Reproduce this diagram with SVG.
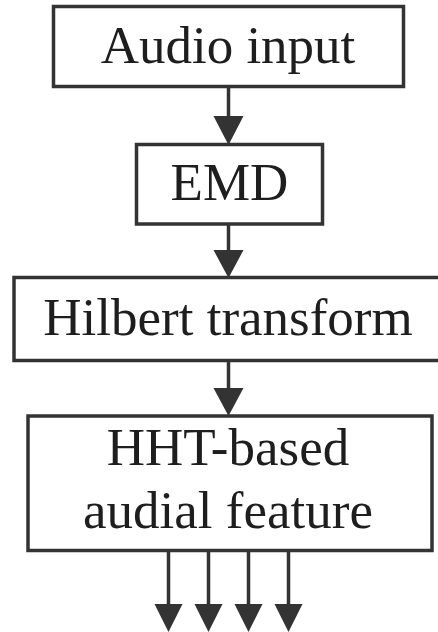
<svg xmlns="http://www.w3.org/2000/svg" width="438" height="632" viewBox="0 0 438 632">
  <defs>
    <style>
      .box { fill: #ffffff; stroke: #333333; stroke-width: 3.5; }
      .lbl { font-size: 53px; fill: #1e1e1e; text-anchor: middle; }
      .wire { stroke: #333333; stroke-width: 3.5; fill: none; }
      .head { fill: #333333; }
    </style>
  </defs>
  <rect width="438" height="632" fill="#ffffff"/>

  <g font-family="'Liberation Serif', 'Times New Roman', serif">
    <g id="audio-input">
      <rect class="box" x="53.5" y="6.5" width="350" height="80"/>
      <text class="lbl" x="228" y="63">Audio input</text>
    </g>

    <g id="emd">
      <rect class="box" x="136.5" y="144.5" width="186" height="79.5"/>
      <text class="lbl" x="229.5" y="200">EMD</text>
    </g>

    <g id="hilbert-transform">
      <rect class="box" x="14" y="277.5" width="440" height="83"/>
      <text class="lbl" x="228" y="335">Hilbert transform</text>
    </g>

    <g id="hht-feature">
      <rect class="box" x="28" y="416" width="404" height="134.5"/>
      <text class="lbl" x="228" y="465">HHT-based</text>
      <text class="lbl" x="228" y="528">audial feature</text>
    </g>
  </g>

  <g id="connectors">
    <line class="wire" x1="228.5" y1="86.5" x2="228.5" y2="118"/>
    <polygon class="head" points="213.5,116 243.5,116 228.5,145"/>

    <line class="wire" x1="228.5" y1="224" x2="228.5" y2="252"/>
    <polygon class="head" points="213.5,250 243.5,250 228.5,278"/>

    <line class="wire" x1="228.5" y1="360.5" x2="228.5" y2="390"/>
    <polygon class="head" points="213.5,388 243.5,388 228.5,416"/>

    <line class="wire" x1="168.5" y1="550.5" x2="168.5" y2="606"/>
    <polygon class="head" points="154.5,604 182.5,604 168.5,632"/>
    <line class="wire" x1="208.5" y1="550.5" x2="208.5" y2="606"/>
    <polygon class="head" points="194.5,604 222.5,604 208.5,632"/>
    <line class="wire" x1="248.5" y1="550.5" x2="248.5" y2="606"/>
    <polygon class="head" points="234.5,604 262.5,604 248.5,632"/>
    <line class="wire" x1="288.5" y1="550.5" x2="288.5" y2="606"/>
    <polygon class="head" points="274.5,604 302.5,604 288.5,632"/>
  </g>
</svg>
